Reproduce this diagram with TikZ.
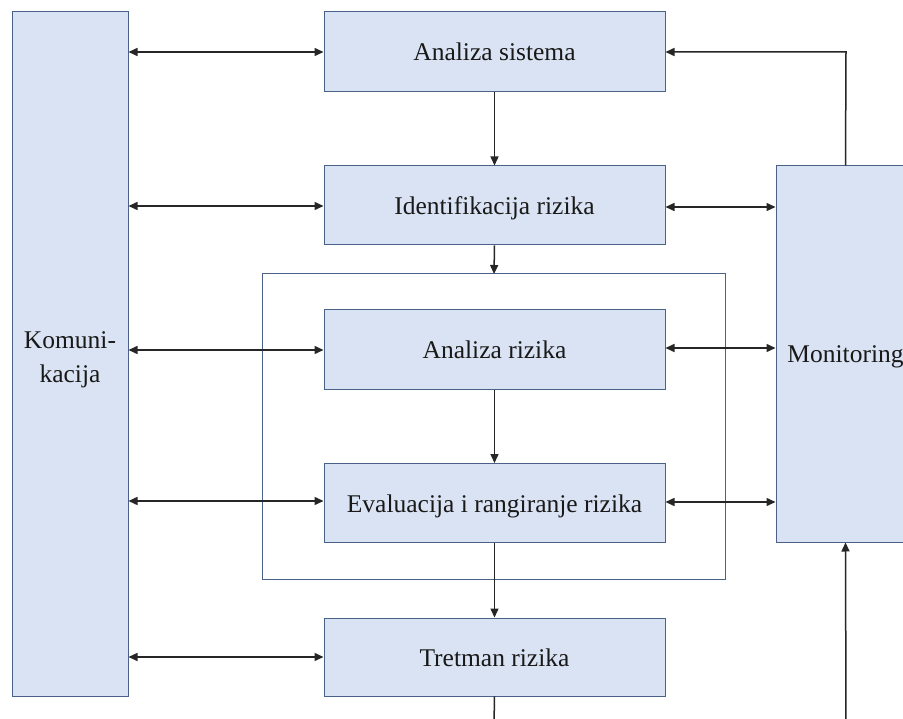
\documentclass[tikz,border=0pt]{standalone}
\usepackage{fontspec}
\setmainfont{Liberation Serif}[Ligatures=TeX]
\usetikzlibrary{arrows.meta}
\definecolor{boxfill}{HTML}{DAE3F3}
\definecolor{boxline}{HTML}{4A6288}
\tikzset{
  blk/.style={draw=boxline, fill=boxfill, line width=1pt, rectangle, inner sep=0pt,
    font=\rmfamily\fontsize{25.5}{34}\selectfont, text=black!90, align=center,
    text height=18pt, text depth=0pt},
  frm/.style={draw=boxline, line width=1pt},
  tip/.tip={Triangle[length=9pt,width=8pt]},
  conn/.style={draw=black!85, line width=1.5pt, -tip},
  bconn/.style={draw=black!85, line width=1.5pt, tip-tip},
  plainline/.style={draw=black!85, line width=1.5pt}
}
\begin{document}
\begin{tikzpicture}[x=1pt,y=-1pt]
\clip (0,0) rectangle (903,719);
\fill[white] (0,0) rectangle (903,719);
% outer frame
\draw[frm] (262,274) rectangle (725,579);
% nodes
\node[blk, minimum width=116pt, minimum height=684pt, text height=58pt, text depth=0pt] (kom) at (70,354) {Komuni-\\kacija};
\node[blk, minimum width=341pt, minimum height=80pt] (as) at (494.5,52) {Analiza sistema};
\node[blk, minimum width=341pt, minimum height=79pt] (ir) at (494.5,205.5) {Identifikacija rizika};
\node[blk, minimum width=341pt, minimum height=80pt] (ar) at (494.5,350) {Analiza rizika};
\node[blk, minimum width=341pt, minimum height=79pt] (ev) at (494.5,503) {Evaluacija i rangiranje rizika};
\node[blk, minimum width=341pt, minimum height=78pt] (tr) at (494.5,657) {Tretman rizika};
\node[blk, minimum width=139pt, minimum height=376pt] (mon) at (845.5,354) {Monitoring};
\coordinate (bl) at (494,725);
\coordinate (br) at (846,725);
\coordinate (topc) at (846,52);
% vertical flow
\draw[conn] (as.south) -- (ir.north);
\draw[conn] (ir.south) -- (494,274);
\draw[conn] (ar.south) -- (ev.north);
\draw[conn] (ev.south) -- (tr.north);
\draw[plainline] (tr.south) -- (bl);
\draw[conn] (br) -- (mon.south);
\draw[conn] (mon.north) -- (topc) -- (as.east);
% communication arrows
\draw[bconn] (kom.east |- as.east) -- (as.west);
\draw[bconn] (kom.east |- 0,206) -- (ir.west |- 0,206);
\draw[bconn] (kom.east |- ar.west) -- (ar.west);
\draw[bconn] (kom.east |- 0,501) -- (ev.west |- 0,501);
\draw[bconn] (kom.east |- tr.west) -- (tr.west);
% monitoring arrows
\draw[bconn] (ir.east |- 0,207) -- (mon.west |- 0,207);
\draw[bconn] (ar.east |- 0,348) -- (mon.west |- 0,348);
\draw[bconn] (ev.east |- 0,502) -- (mon.west |- 0,502);
\end{tikzpicture}
\end{document}
